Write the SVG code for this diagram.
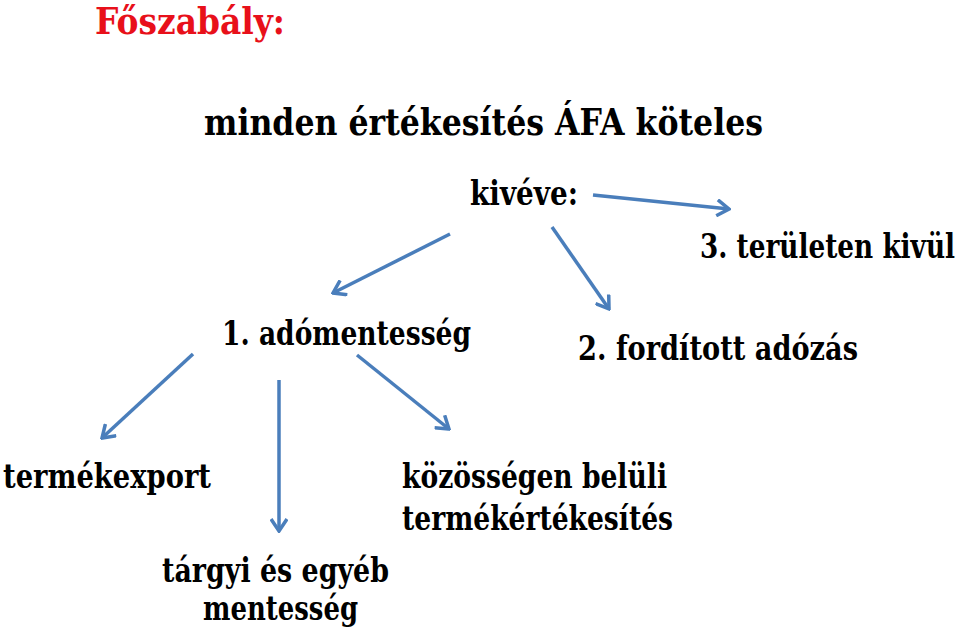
<svg xmlns="http://www.w3.org/2000/svg" width="960" height="634" viewBox="0 0 960 634">
<style>
text{font-family:'DejaVu Serif','Liberation Serif',serif;font-weight:700;fill:#000;font-size:33px}
.title{fill:#e8101a;font-size:37px}
.big{font-size:37px}
.c line{stroke:#4a7ebb;stroke-width:3.5;marker-end:url(#ah);fill:none}
</style>
<defs>
<marker id="ah" markerUnits="userSpaceOnUse" viewBox="-14 -9 16 18" markerWidth="16" markerHeight="18" refX="0" refY="0" orient="auto">
<path d="M-12,-8 L0,0 L-12,8" fill="none" stroke="#4a7ebb" stroke-width="3.5"/>
</marker>
</defs>
<rect width="960" height="634" fill="#fff"/>
<g id="title"><text class="title" x="95" y="34" textLength="190" lengthAdjust="spacingAndGlyphs">Főszabály:</text></g>
<g id="rule"><text class="big" x="204" y="135" textLength="559" lengthAdjust="spacingAndGlyphs">minden értékesítés ÁFA köteles</text></g>
<g id="kiveve"><text x="470" y="205" textLength="108" lengthAdjust="spacingAndGlyphs">kivéve:</text></g>
<g id="n3"><text x="955" y="258" text-anchor="end" textLength="255" lengthAdjust="spacingAndGlyphs">3. területen kivül</text></g>
<g id="n1"><text x="222" y="345" textLength="249" lengthAdjust="spacingAndGlyphs">1. adómentesség</text></g>
<g id="n2"><text x="578" y="360" textLength="280" lengthAdjust="spacingAndGlyphs">2. fordított adózás</text></g>
<g id="export"><text x="3" y="488" textLength="208" lengthAdjust="spacingAndGlyphs">termékexport</text></g>
<g id="kozossegi"><text x="402" y="488" textLength="265" lengthAdjust="spacingAndGlyphs">közösségen belüli</text><text x="402" y="530" textLength="271" lengthAdjust="spacingAndGlyphs">termékértékesítés</text></g>
<g id="targyi"><text x="162" y="582" textLength="227" lengthAdjust="spacingAndGlyphs">tárgyi és egyéb</text><text x="203" y="620" textLength="155" lengthAdjust="spacingAndGlyphs">mentesség</text></g>
<g id="connectors" class="c">
<line x1="593" y1="195" x2="729" y2="209"/>
<line x1="552" y1="227" x2="609" y2="309"/>
<line x1="450" y1="234" x2="333" y2="293"/>
<line x1="193" y1="354" x2="102" y2="438"/>
<line x1="279" y1="380" x2="279" y2="531"/>
<line x1="357" y1="355" x2="449" y2="429"/>
</g>
</svg>
